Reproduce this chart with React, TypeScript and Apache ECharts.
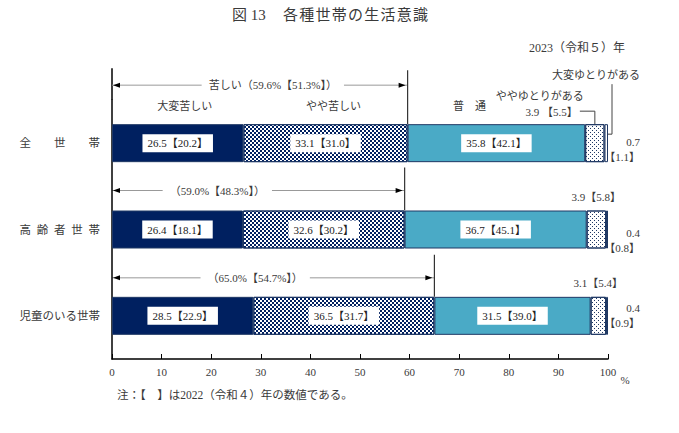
import { useEffect, useRef } from "react";
import * as echarts from "echarts";

// 2023 values (%), by household type
const categories = ["全世帯", "高齢者世帯", "児童のいる世帯"];
const categoryLabels = [
  "全\u3000\u3000世\u3000\u3000帯",
  "高\u2002齢\u2002者\u2002世\u2002帯",
  "児童のいる世帯",
];
const seriesNames = ["大変苦しい", "やや苦しい", "普通", "ややゆとりがある", "大変ゆとりがある"];

const veryHard = [26.5, 26.4, 28.5];
const somewhatHard = [33.1, 32.6, 36.5];
const normal = [35.8, 36.7, 31.5];
const somewhatEasy = [3.9, 3.9, 3.1];
const veryEasy = [0.7, 0.4, 0.4];

// 2022 values shown in 【 】
const veryHard2022 = [20.2, 18.1, 22.9];
const somewhatHard2022 = [31.0, 30.2, 31.7];
const normal2022 = [42.1, 45.1, 39.0];
const somewhatEasy2022 = [5.5, 5.8, 5.4];
const veryEasy2022 = [1.1, 0.8, 0.9];

const hardTotal = [59.6, 59.0, 65.0];
const hardTotal2022 = [51.3, 48.3, 54.7];

const SERIF = "'Liberation Serif', 'Noto Sans CJK JP', serif";
const NAVY = "#002060";
const AQUA = "#4aaac6";
const EDGE = "#1f3864";
const INK = "#3a3a3a";

// layout tweaks for the annotations (pixels)
const bracketOffset = [58, 39, 38];
const bracketTop = [73, 62, 61];
const bracketTextShift = [13, -41, -18];
const smallLabelShift = [6, 11, 0];
const headerShift = [7, 8, -27];

const fmt = (v: number) => v.toFixed(1);

export default function App() {
  const ref = useRef<HTMLDivElement>(null);

  useEffect(() => {
    document.body.style.margin = "0";
    if (!ref.current) return;
    const chart = echarts.init(ref.current, undefined, { renderer: "svg" });

    const values = [veryHard, somewhatHard, normal, somewhatEasy, veryEasy];
    const prev = [veryHard2022, somewhatHard2022, normal2022, somewhatEasy2022, veryEasy2022];
    const fills: any[] = [
      { color: NAVY },
      {
        color: "#fff",
        decal: {
          symbol: "rect",
          symbolSize: 1,
          color: NAVY,
          dashArrayX: [[2, 2], [0, 2, 2, 0]],
          dashArrayY: [2, 0],
        },
      },
      { color: AQUA },
      {
        color: "#fff",
        decal: {
          symbol: "rect",
          symbolSize: 1,
          color: EDGE,
          dashArrayX: [[1, 3], [0, 2, 1, 1]],
          dashArrayY: [1, 1],
        },
      },
      { color: "#fff" },
    ];

    const series = values.map((data, s) => ({
      name: seriesNames[s],
      type: "bar",
      stack: "total",
      barWidth: 38,
      data,
      itemStyle: { ...fills[s], borderColor: EDGE, borderWidth: 1 },
      emphasis: { disabled: true },
      label:
        s < 3
          ? {
              show: true,
              position: "inside",
              formatter: (p: any) => `${fmt(p.value)}【${fmt(prev[s][p.dataIndex])}】`,
              backgroundColor: "#fff",
              padding: [4, 5, 3, 5],
              fontFamily: SERIF,
              fontSize: 11,
              color: "#222",
            }
          : { show: false },
    }));

    chart.setOption({
      animation: false,
      title: [
        {
          text: "2023（令和５）年",
          left: 524,
          top: 37,
          textStyle: { fontFamily: SERIF, fontSize: 12, fontWeight: "normal", color: INK },
        },
        {
          text: "注：【\u3000】は2022（令和４）年の数値である。",
          left: 112,
          top: 384,
          textStyle: { fontFamily: SERIF, fontSize: 11.5, fontWeight: "normal", color: INK },
        },
      ],
      grid: { left: 112, right: 71, top: 100, bottom: 74 },
      xAxis: {
        type: "value",
        min: 0,
        max: 100,
        interval: 10,
        axisLine: { show: true, lineStyle: { color: "#000", width: 1.5 } },
        axisTick: { show: true, inside: true, length: 5, lineStyle: { color: "#000" } },
        axisLabel: { fontFamily: SERIF, fontSize: 11, color: INK, margin: 7 },
        splitLine: { show: false },
      },
      yAxis: {
        type: "category",
        data: categories,
        inverse: true,
        axisLine: { show: true, lineStyle: { color: "#000", width: 1.5 } },
        axisTick: { show: false },
        axisLabel: {
          formatter: (_v: string, i: number) => categoryLabels[i],
          fontFamily: SERIF,
          fontSize: 11.5,
          color: INK,
          margin: 12,
        },
      },
      series,
    });

    const px = (v: number, i: number) =>
      chart.convertToPixel({ gridIndex: 0 }, [v, i]) as number[];
    const half = 19;
    const x0 = px(0, 0)[0];
    const bandHalf = (px(0, 1)[1] - px(0, 0)[1]) / 2;
    const gridTop = px(0, 0)[1] - bandHalf;
    const axisY = px(0, 2)[1] + bandHalf;
    const textStyle = (extra: any) => ({
      fontFamily: SERIF,
      fontSize: 11,
      fill: INK,
      ...extra,
    });

    const g: any[] = [];
    // chart title, characters spaced out like the printed figure
    g.push({
      type: "text",
      style: textStyle({
        text: "図 13",
        x: 232,
        y: 15,
        fontSize: 15,
        verticalAlign: "middle",
      }),
    });
    g.push({
      type: "text",
      style: textStyle({
        text: "各\u200a種\u200a世\u200a帯\u200aの\u200a生\u200a活\u200a意\u200a識",
        x: 283,
        y: 15,
        fontSize: 15,
        verticalAlign: "middle",
      }),
    });
    // y axis continues above the plot
    g.push({
      type: "line",
      shape: { x1: x0, y1: px(0, 0)[1] - 75, x2: x0, y2: gridTop },
      style: { stroke: "#000", lineWidth: 1.5 },
    });

    categories.forEach((_c, i) => {
      const [xe, yc] = px(hardTotal[i], i);
      const yb = yc - bracketOffset[i];
      g.push({
        type: "line",
        shape: { x1: x0, y1: yb, x2: xe, y2: yb },
        style: { stroke: "#999", lineWidth: 1 },
      });
      g.push({
        type: "polygon",
        shape: { points: [[x0 + 1, yb], [x0 + 8, yb - 2.5], [x0 + 8, yb + 2.5]] },
        style: { fill: "#000" },
      });
      g.push({
        type: "polygon",
        shape: { points: [[xe - 2, yb], [xe - 9, yb - 2.5], [xe - 9, yb + 2.5]] },
        style: { fill: "#000" },
      });
      g.push({
        type: "line",
        shape: { x1: xe, y1: yc - bracketTop[i], x2: xe, y2: yc - half },
        style: { stroke: "#333", lineWidth: 1.2 },
      });
      g.push({
        type: "text",
        style: textStyle({
          text: `${i === 0 ? "苦しい" : ""}（${fmt(hardTotal[i])}%【${fmt(hardTotal2022[i])}%】）`,
          x: (x0 + xe) / 2 + bracketTextShift[i],
          y: yb,
          align: "center",
          verticalAlign: "middle",
          backgroundColor: "#fff",
          padding: [1, 7],
        }),
      });

      const base = veryHard[i] + somewhatHard[i] + normal[i];
      const xs = px(base + somewhatEasy[i] / 2, i)[0];
      const xEnd = px(base + somewhatEasy[i] + veryEasy[i], i)[0];
      const easyText = `${fmt(somewhatEasy[i])}【${fmt(somewhatEasy2022[i])}】`;

      if (i === 0) {
        const starts = [0, veryHard[i], veryHard[i] + somewhatHard[i]];
        const widths = [veryHard[i], somewhatHard[i], normal[i]];
        const heads = ["大変苦しい", "やや苦しい", "普\u3000通"];
        heads.forEach((h, s) => {
          g.push({
            type: "text",
            style: textStyle({
              text: h,
              x: px(starts[s] + widths[s] / 2, i)[0] + headerShift[s],
              y: yc - 37,
              align: "center",
              verticalAlign: "middle",
            }),
          });
        });
        g.push({
          type: "text",
          style: textStyle({
            text: seriesNames[3],
            x: xs - 11,
            y: yc - 47,
            align: "right",
            verticalAlign: "middle",
          }),
        });
        g.push({
          type: "text",
          style: textStyle({
            text: `${fmt(somewhatEasy[i])} 【${fmt(somewhatEasy2022[i])}】`,
            x: xs - 17,
            y: yc - 31,
            align: "right",
            verticalAlign: "middle",
          }),
        });
        g.push({
          type: "polyline",
          shape: { points: [[xs - 15, yc - 32], [xs, yc - 32], [xs, yc - half]] },
          style: { stroke: "#444", lineWidth: 1, fill: null },
        });
        g.push({
          type: "text",
          style: textStyle({
            text: seriesNames[4],
            x: xEnd + 32,
            y: yc - 68,
            align: "right",
            verticalAlign: "middle",
          }),
        });
        g.push({
          type: "polyline",
          shape: { points: [[xEnd + 4, yc - 59], [xEnd + 4, yc - 9], [xEnd, yc - 9]] },
          style: { stroke: "#444", lineWidth: 1, fill: null },
        });
      } else {
        g.push({
          type: "text",
          style: textStyle({
            text: easyText,
            x: xs,
            y: yc - 33,
            align: "center",
            verticalAlign: "middle",
          }),
        });
      }

      g.push({
        type: "text",
        style: textStyle({
          text: `${fmt(veryEasy[i])}\n【${fmt(veryEasy2022[i])}】`,
          x: xEnd + 32,
          y: yc + smallLabelShift[i],
          align: "right",
          verticalAlign: "middle",
          lineHeight: 15,
        }),
      });
    });

    g.push({
      type: "text",
      style: textStyle({
        text: "%",
        x: px(100, 0)[0] + 17,
        y: axisY + 21,
        align: "center",
        verticalAlign: "middle",
      }),
    });

    chart.setOption({ graphic: g });

    return () => chart.dispose();
  }, []);

  return <div ref={ref} style={{ width: 679, height: 433 }} />;
}
